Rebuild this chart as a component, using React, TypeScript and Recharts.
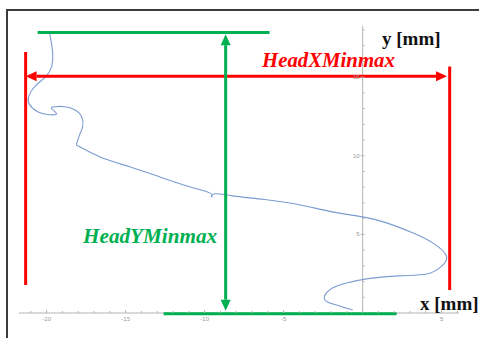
import React from "react";
import {
  LineChart,
  Line,
  XAxis,
  YAxis,
  ReferenceLine,
  ReferenceDot,
} from "recharts";

// head trajectory, x [mm] / y [mm], in drawing order
const pathX = [
  -19.81, -19.62, -19.68, -20.06, -20.76, -21.14, -21.08, -20.57, -19.81, -19.37,
  -19.68, -19.49, -18.86, -18.23, -17.78, -17.72, -17.91, -18.1, -17.91, -16.65,
  -14.75, -12.85, -10.95, -9.68, -9.56, -9.37, -8.23, -6.2, -3.99, -1.9, 0, 1.52,
  3.16, 4.43, 5.32, 4.87, 4.05, 2.34, 0.25, -1.01, -1.9, -2.41, -2.22, -1.46, -0.63,
];
const pathY = [
  17.83, 16.56, 15.67, 15.03, 14.39, 13.76, 13.25, 12.8, 12.61, 12.68, 12.99, 13.12,
  13.12, 12.93, 12.48, 11.85, 11.34, 10.76, 10.57, 9.94, 9.3, 8.66, 8.03, 7.64, 7.39,
  7.58, 7.45, 7.22, 6.88, 6.43, 6.11, 5.73, 5.1, 4.46, 3.57, 2.87, 2.48, 2.36, 2.17,
  1.91, 1.59, 1.08, 0.7, 0.45, 0.19,
];

const xTicks = [-21, -20, -19, -18, -17, -16, -15, -14, -13, -12, -11, -10, -9, -8, -7, -6, -5, -4, -3, -2, -1, 0, 1, 2, 3, 4, 5, 6];
const yTicks = [1, 2, 3, 4, 5, 6, 7, 8, 9, 10, 11, 12, 13, 14, 15, 16, 17, 18];

// min/max markers (data units)
const headXMin = -21.33;
const headXMax = 5.51;
const headXArrowEnd = 5.34;
const headXArrowY = 15.05;
const headXMinSpan = [1.78, 16.6];
const headXMaxSpan = [1.46, 15.67];
const headYMin = -0.05;
const headYMax = 17.83;
const headYMinSpan = [-12.6, 2.15];
const headYMaxSpan = [-20.57, -5.89];
const headYArrowX = -8.67;

const data = pathX.map((x, i) => ({ x, y: pathY[i] }));

const RED = "#ff0000";
const GREEN = "#00b050";
const AXIS = "#b4b4b4";
const SERIF = "'Liberation Serif', 'Times New Roman', 'DejaVu Serif', serif";

const arrowShape = (color: string) => (props: any) => {
  const { x1, y1, x2, y2 } = props;
  const len = 11;
  const hw = 5;
  const dx = x2 - x1;
  const dy = y2 - y1;
  const d = Math.sqrt(dx * dx + dy * dy) || 1;
  const ux = dx / d;
  const uy = dy / d;
  const head = (tx: number, ty: number, sx: number, sy: number) => {
    const bx = tx - sx * len;
    const by = ty - sy * len;
    return `${tx},${ty} ${bx - sy * hw},${by + sx * hw} ${bx + sy * hw},${by - sx * hw}`;
  };
  return (
    <g>
      <line
        x1={x1 + ux * len}
        y1={y1 + uy * len}
        x2={x2 - ux * len}
        y2={y2 - uy * len}
        stroke={color}
        strokeWidth={3}
      />
      <polygon points={head(x1, y1, -ux, -uy)} fill={color} />
      <polygon points={head(x2, y2, ux, uy)} fill={color} />
    </g>
  );
};

const XTick = (props: any) => {
  const { x, y, payload } = props;
  const major = payload.value % 5 === 0;
  return (
    <g>
      <line x1={x} y1={y} x2={x} y2={y - (major ? 3 : 2)} stroke={AXIS} />
      {major && payload.value !== 0 && (
        <text x={x} y={y + 8} textAnchor="middle" fontSize={6} fill="#999" fontFamily="Liberation Sans">
          {payload.value}
        </text>
      )}
    </g>
  );
};

const yTickShape = (value: number) => (props: any) => {
  const { cx, cy } = props;
  const major = value % 5 === 0;
  return (
    <g>
      <line x1={cx - (major ? 2 : 0)} y1={cy} x2={cx + 2} y2={cy} stroke={AXIS} />
      {major && (
        <text x={cx - 3} y={cy + 2} textAnchor="end" fontSize={6} fill="#999" fontFamily="Liberation Sans">
          {value}
        </text>
      )}
    </g>
  );
};

const labelStyle: React.CSSProperties = {
  position: "absolute",
  fontFamily: SERIF,
  fontWeight: "bold",
  whiteSpace: "nowrap",
  lineHeight: 1,
};

export default function App() {
  return (
    <div
      style={{
        position: "absolute",
        left: 0,
        top: 0,
        width: 479,
        height: 338,
        overflow: "hidden",
        background: "#fff",
      }}
    >
      <div
        style={{
          position: "absolute",
          left: 6,
          top: 9,
          width: 600,
          height: 500,
          border: "2px solid #3c3c3c",
        }}
      />
      <div style={{ position: "absolute", left: 0, top: 0 }}>
        <LineChart width={479} height={338} data={data} margin={{ top: 26, right: 20, bottom: 0, left: 19 }}>
          <XAxis
            dataKey="x"
            type="number"
            domain={[-21.75, 6.1]}
            ticks={xTicks}
            interval={0}
            allowDataOverflow
            height={25}
            tickSize={0}
            tickMargin={0}
            axisLine={false}
            tick={<XTick />}
          />
          <YAxis type="number" domain={[0, 18.25]} allowDataOverflow hide />
          <ReferenceLine x={0} stroke={AXIS} strokeWidth={1} />
          <ReferenceLine y={0} stroke={AXIS} strokeWidth={1} ifOverflow="visible" />
          {yTicks.map((t) => (
            <ReferenceDot key={t} x={0} y={t} shape={yTickShape(t)} />
          ))}
          <Line
            dataKey="y"
            type="natural"
            dot={false}
            stroke="#7c9bd1"
            strokeWidth={1.1}
            isAnimationActive={false}
          />
          <ReferenceLine
            segment={[{ x: headXMin, y: headXMinSpan[0] }, { x: headXMin, y: headXMinSpan[1] }]}
            stroke={RED}
            strokeWidth={3}
          />
          <ReferenceLine
            segment={[{ x: headXMax, y: headXMaxSpan[0] }, { x: headXMax, y: headXMaxSpan[1] }]}
            stroke={RED}
            strokeWidth={3}
          />
          <ReferenceLine
            segment={[{ x: headXMin, y: headXArrowY }, { x: headXArrowEnd, y: headXArrowY }]}
            shape={arrowShape(RED)}
          />
          <ReferenceLine
            segment={[{ x: headYMaxSpan[0], y: headYMax }, { x: headYMaxSpan[1], y: headYMax }]}
            stroke={GREEN}
            strokeWidth={3}
          />
          <ReferenceLine
            segment={[{ x: headYMinSpan[0], y: headYMin }, { x: headYMinSpan[1], y: headYMin }]}
            stroke={GREEN}
            strokeWidth={3}
            ifOverflow="visible"
          />
          <ReferenceLine
            segment={[{ x: headYArrowX, y: 0.15 }, { x: headYArrowX, y: headYMax - 0.1 }]}
            shape={arrowShape(GREEN)}
          />
        </LineChart>
      </div>
      <div style={{ ...labelStyle, left: 262, top: 50, fontSize: 20.8, fontStyle: "italic", color: RED }}>
        HeadXMinmax
      </div>
      <div style={{ ...labelStyle, left: 83, top: 226, fontSize: 21.2, fontStyle: "italic", color: GREEN }}>
        HeadYMinmax
      </div>
      <div style={{ ...labelStyle, left: 382, top: 29, fontSize: 19, color: "#111" }}>y [mm]</div>
      <div style={{ ...labelStyle, left: 420, top: 294, fontSize: 19, color: "#111" }}>x [mm]</div>
    </div>
  );
}
